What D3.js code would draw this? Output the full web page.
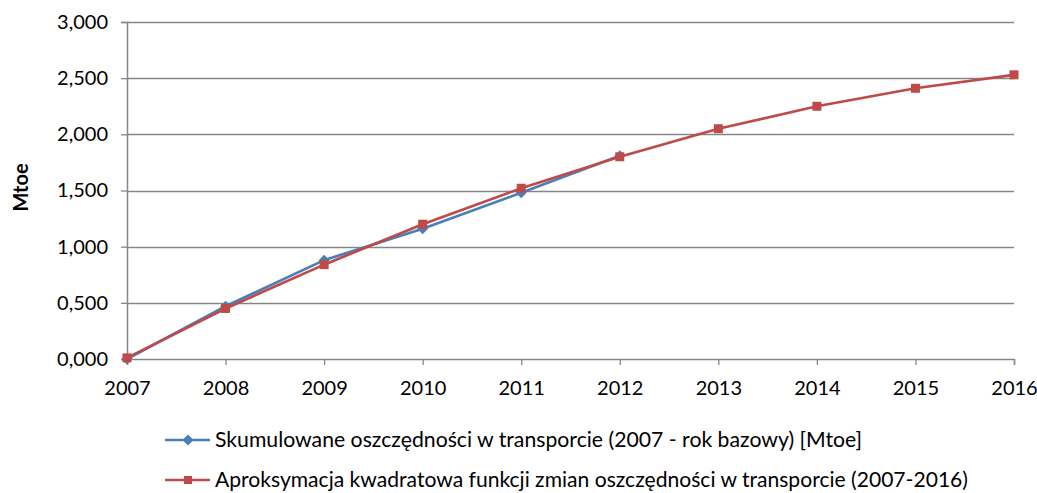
<!DOCTYPE html>
<html>
<head>
<meta charset="utf-8">
<script src="https://cdnjs.cloudflare.com/ajax/libs/d3/7.8.5/d3.min.js"></script>
<style>
  body { margin: 0; background: #fff; }
  svg text { font-family: Lato, "Open Sans", sans-serif; fill: #000; }
</style>
</head>
<body>
<div id="chart"></div>
<script>
// years on the x axis
var years = [2007, 2008, 2009, 2010, 2011, 2012, 2013, 2014, 2015, 2016];
// cumulative savings (only 2007-2012)
var savedYears = [2007, 2008, 2009, 2010, 2011, 2012];
var savedValues = [0.0, 0.47, 0.88, 1.16, 1.48, 1.81];
// quadratic approximation
var approxValues = [0.01, 0.45, 0.84, 1.20, 1.52, 1.80, 2.05, 2.25, 2.41, 2.53];
var yTicks = [0, 0.5, 1, 1.5, 2, 2.5, 3];
var seriesNames = [
  "Skumulowane oszczędności w transporcie (2007 - rok bazowy) [Mtoe]",
  "Aproksymacja kwadratowa funkcji zmian oszczędności w transporcie (2007-2016)"
];

var width = 1037, height = 493;
var margin = {top: 22, right: 23, bottom: 134, left: 127};
var w = width - margin.left - margin.right,
    h = height - margin.top - margin.bottom;

var blue = "#4a7ebb", red = "#be4b48", axisCol = "#868686";

var svg = d3.select("#chart").append("svg")
    .attr("width", width)
    .attr("height", height);

var g = svg.append("g")
    .attr("transform", "translate(" + margin.left + "," + margin.top + ")");

var x = d3.scaleLinear().domain([2007, 2016]).range([0, w]);
var y = d3.scaleLinear().domain([0, 3]).range([h, 0]);

var fmt = function(d) { return d3.format(".3f")(d).replace(".", ","); };

// gridlines
g.selectAll(".grid").data(yTicks.slice(1)).enter().append("line")
    .attr("x1", 0).attr("x2", w)
    .attr("y1", function(d) { return Math.round(y(d)) + 0.5; })
    .attr("y2", function(d) { return Math.round(y(d)) + 0.5; })
    .style("stroke", axisCol).style("stroke-width", 1.3);

// y axis
var yAxis = g.append("g")
    .call(d3.axisLeft(y).tickValues(yTicks).tickFormat(fmt).tickSize(6).tickPadding(13));
yAxis.select(".domain").attr("stroke", axisCol).attr("stroke-width", 1.5);
yAxis.selectAll(".tick line").attr("stroke", axisCol).attr("stroke-width", 1.3);
yAxis.selectAll("text").style("font-size", "20px");

// x axis
var xAxis = g.append("g")
    .attr("transform", "translate(0," + h + ")")
    .call(d3.axisBottom(x).tickValues(years).tickFormat(d3.format("d")).tickSize(6).tickPadding(16));
xAxis.select(".domain").attr("stroke", axisCol).attr("stroke-width", 1.5);
xAxis.selectAll(".tick line").attr("stroke", axisCol).attr("stroke-width", 1.3);
xAxis.selectAll("text").style("font-size", "20px");

// y axis title
svg.append("text")
    .attr("transform", "translate(28," + (margin.top + h / 2 - 3) + ") rotate(-90)")
    .style("text-anchor", "middle")
    .style("font-size", "20px")
    .style("font-weight", "bold")
    .text("Mtoe");

var line = d3.line()
    .x(function(d) { return x(d[0]); })
    .y(function(d) { return y(d[1]); });

var saved = savedYears.map(function(d, i) { return [d, savedValues[i]]; });
var approx = years.map(function(d, i) { return [d, approxValues[i]]; });

var diamond = d3.symbol().type(d3.symbolSquare).size(60);

// blue series
g.append("path").datum(saved)
    .attr("d", line)
    .style("fill", "none").style("stroke", blue).style("stroke-width", 2.7);
g.selectAll(".dia").data(saved).enter().append("path")
    .attr("d", diamond)
    .attr("transform", function(d) { return "translate(" + x(d[0]) + "," + y(d[1]) + ") rotate(45)"; })
    .style("fill", blue);

// red series
g.append("path").datum(approx)
    .attr("d", line)
    .style("fill", "none").style("stroke", red).style("stroke-width", 2.7);
g.selectAll(".sq").data(approx).enter().append("rect")
    .attr("x", function(d) { return x(d[0]) - 4.5; })
    .attr("y", function(d) { return y(d[1]) - 4.5; })
    .attr("width", 9).attr("height", 9)
    .style("fill", red);

// legend
var legend = svg.append("g");
var legY = [440, 480];
var legLen = [647, 753];
[blue, red].forEach(function(c, i) {
  var lg = legend.append("g").attr("transform", "translate(165," + legY[i] + ")");
  lg.append("line").attr("x1", 0).attr("x2", 45).attr("y1", 0).attr("y2", 0)
    .style("stroke", c).style("stroke-width", 2.7);
  if (i === 0) {
    lg.append("path").attr("d", diamond).attr("transform", "translate(23,0) rotate(45)").style("fill", c);
  } else {
    lg.append("rect").attr("x", 19).attr("y", -4).attr("width", 8).attr("height", 8).style("fill", c);
  }
  lg.append("text").attr("x", 50).attr("y", 7)
    .attr("textLength", legLen[i]).attr("lengthAdjust", "spacingAndGlyphs")
    .style("font-size", "21px")
    .text(seriesNames[i]);
});
</script>
</body>
</html>
